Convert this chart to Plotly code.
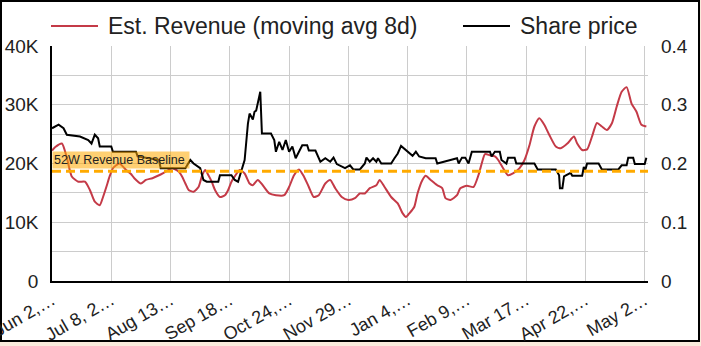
import plotly.graph_objects as go

# ---- data ----
tick_days = [0, 36, 72, 108, 144, 180, 216, 252, 288, 324, 360]
tick_labels = ["Jun 2,…", "Jul 8, 2…", "Aug 13…", "Sep 18…", "Oct 24,…", "Nov 29…",
               "Jan 4,…", "Feb 9,…", "Mar 17…", "Apr 22,…", "May 2…"]

rev_day = [0, 2, 6, 9, 12, 16, 20, 23, 26, 29, 31, 33, 35, 37, 39, 41, 45, 48, 50, 54, 57, 61, 65, 69,
           73, 77, 79, 81, 83, 86, 89, 91, 93, 95, 97, 99, 102, 105, 107, 109, 111, 114, 117, 120, 122,
           125, 128, 132, 136, 141, 144, 147, 150, 153, 156, 159, 162, 166, 169, 172, 176, 180, 184, 187,
           190, 193, 197, 199, 202, 206, 210, 213, 215, 217, 220, 222, 225, 227, 230, 234, 237, 239, 242,
           246, 248, 252, 256, 259, 261, 263, 266, 269, 271, 274, 277, 280, 284, 287, 290, 293, 296, 299,
           302, 306, 309, 313, 317, 319, 322, 325, 328, 331, 334, 337, 340, 343, 346, 349, 352, 355, 358, 361]
revenue = [22200, 22800, 23400, 21000, 17800, 16900, 16900, 15500, 13500, 12900, 14300, 16000, 17800,
           19200, 19700, 20000, 18900, 18200, 17500, 16600, 17200, 17500, 18000, 18600, 19200, 18600,
           17800, 16600, 15500, 15200, 16000, 17800, 18900, 18000, 16900, 15500, 14300, 14600, 15500,
           16900, 17800, 18900, 18300, 16600, 16300, 17200, 16300, 14900, 14600, 14600, 16000, 18000,
           19000, 17800, 16000, 14300, 14600, 16600, 17200, 15800, 14300, 13800, 14100, 14900, 14900,
           15800, 16300, 17200, 16000, 14300, 13200, 11500, 10900, 11500, 12600, 14900, 17200, 17900,
           17200, 16300, 15800, 14100, 13800, 14600, 15800, 16200, 16000, 18000, 20000, 21600, 21400,
           21200, 20600, 19200, 18000, 18300, 19200, 20600, 23100, 26300, 27700, 26600, 24900, 22900,
           22600, 23400, 24600, 23400, 22300, 22400, 24600, 26900, 26300, 25700, 26800, 29700, 32200,
           33000, 30200, 28800, 26600, 26300]

px_day = [0, 4, 7, 9, 17, 22, 24, 26, 28, 29, 36, 37, 51, 52, 65, 66, 81, 84, 86, 90, 92, 94, 101, 102,
          109, 111, 113, 115, 117, 119, 120, 122, 123, 124, 125, 126.5, 127.5, 133, 135, 136, 138, 140,
          142, 144, 146, 148, 150, 152, 155, 156, 160, 163, 166, 169, 171, 173, 178, 181, 183, 187, 190,
          191, 193, 195, 197, 198, 200, 206, 208, 210, 212, 215, 219, 221, 223, 227, 233, 234, 246, 247,
          249, 251, 253, 255, 266, 267, 269, 272, 273, 276, 277, 281, 282, 293, 295, 306, 308, 308.5,
          310, 311, 315, 316, 322, 323, 324, 325, 332, 334, 344, 346, 349, 350, 353, 354, 360, 361]
share_price = [0.26, 0.266, 0.26, 0.249, 0.246, 0.24, 0.234, 0.249, 0.243, 0.229, 0.229, 0.22, 0.22,
               0.212, 0.206, 0.192, 0.192, 0.206, 0.2, 0.192, 0.172, 0.169, 0.169, 0.18, 0.18, 0.172,
               0.169, 0.186, 0.206, 0.268, 0.285, 0.275, 0.288, 0.29, 0.302, 0.322, 0.251, 0.251, 0.24,
               0.22, 0.237, 0.223, 0.24, 0.22, 0.229, 0.209, 0.22, 0.231, 0.231, 0.222, 0.222, 0.203,
               0.209, 0.203, 0.21, 0.199, 0.192, 0.197, 0.19, 0.19, 0.2, 0.21, 0.203, 0.209, 0.203, 0.209,
               0.2, 0.2, 0.209, 0.217, 0.23, 0.222, 0.213, 0.22, 0.212, 0.209, 0.209, 0.2, 0.209, 0.2,
               0.21, 0.21, 0.2, 0.22, 0.22, 0.212, 0.22, 0.22, 0.206, 0.2, 0.21, 0.21, 0.2, 0.2, 0.19,
               0.19, 0.18, 0.158, 0.158, 0.178, 0.184, 0.179, 0.179, 0.194, 0.19, 0.2, 0.2, 0.19, 0.19,
               0.197, 0.197, 0.21, 0.21, 0.199, 0.199, 0.21]

baseline = 18700
baseline_label = "52W Revenue Baseline"
rev_name = "Est. Revenue (moving avg 8d)"
px_name = "Share price"

# ---- layout geometry ----
W, H = 701, 346
ML, MR, MT, MB = 52, 53, 46, 65
PW, PH = W - ML - MR, H - MT - MB
RED = "#C43A47"
ORANGE = "#FFAA00"
FONT = "Liberation Sans, Arial, sans-serif"
TXT = "#222222"


def px(xp):
    return (xp - ML) / PW


def py(yp):
    return (H - MB - yp) / PH


fig = go.Figure()
fig.add_trace(go.Scatter(x=rev_day, y=revenue, mode="lines", name=rev_name,
                         line=dict(color=RED, width=2, shape="spline", smoothing=0.6),
                         showlegend=False, yaxis="y"))
fig.add_trace(go.Scatter(x=px_day, y=share_price, mode="lines", name=px_name,
                         line=dict(color="black", width=2),
                         showlegend=False, yaxis="y2"))

shapes = [
    # page frame
    dict(type="rect", xref="paper", yref="paper", x0=px(1), x1=px(699), y0=py(1), y1=py(341),
         fillcolor="white", line=dict(color="black", width=2), layer="below"),
    # baseline
    dict(type="line", xref="paper", yref="y", x0=0, x1=1, y0=baseline, y1=baseline,
         line=dict(color=ORANGE, width=3, dash="9px,5px")),
    # legend samples
    dict(type="line", xref="paper", yref="paper", x0=px(51), x1=px(98), y0=py(26), y1=py(26),
         line=dict(color=RED, width=2)),
    dict(type="line", xref="paper", yref="paper", x0=px(463), x1=px(510), y0=py(26), y1=py(26),
         line=dict(color="black", width=2)),
]

annotations = [
    dict(text=rev_name, xref="paper", yref="paper", x=px(106), y=py(26), xanchor="left",
         yanchor="middle", showarrow=False, font=dict(family=FONT, size=23, color=TXT)),
    dict(text=px_name, xref="paper", yref="paper", x=px(518), y=py(26), xanchor="left",
         yanchor="middle", showarrow=False, font=dict(family=FONT, size=23, color=TXT)),
    dict(text=baseline_label, xref="paper", yref="y", x=0, y=baseline, xanchor="left",
         yanchor="bottom", yshift=2, showarrow=False, align="left",
         width=134, height=14, borderpad=1,
         bgcolor="rgba(255,170,0,0.55)", font=dict(family=FONT, size=12.5, color=TXT)),
]

fig.update_layout(
    width=W, height=H,
    margin=dict(l=ML, r=MR, t=MT, b=MB, pad=0, autoexpand=False),
    paper_bgcolor="#FAEBDC",
    plot_bgcolor="rgba(0,0,0,0)",
    font=dict(family=FONT, color=TXT),
    showlegend=False,
    shapes=shapes,
    annotations=annotations,
    xaxis=dict(range=[0, 362], tickvals=tick_days, ticktext=tick_labels, tickangle=-30,
               showgrid=True, gridcolor="#CCCCCC", gridwidth=1, zeroline=False, automargin=False,
               showline=True, linecolor="black", linewidth=1.5, ticks="", ticklen=0,
               ticklabeloverflow="allow",
               tickfont=dict(family=FONT, size=18, color=TXT)),
    yaxis=dict(range=[0, 40000], tickvals=[0, 10000, 20000, 30000, 40000],
               ticktext=["0", "10K", "20K", "30K", "40K"], automargin=False,
               showgrid=True, gridcolor="#CCCCCC", gridwidth=1, zeroline=False,
               minor=dict(dtick=5000, showgrid=True, gridcolor="#CCCCCC", gridwidth=1),
               showline=True, linecolor="black", linewidth=1.5, ticks="", ticklen=0,
               ticklabelstandoff=8,
               tickfont=dict(family=FONT, size=19, color=TXT)),
    yaxis2=dict(range=[0, 0.4], tickvals=[0, 0.1, 0.2, 0.3, 0.4],
                ticktext=["0", "0.1", "0.2", "0.3", "0.4"], overlaying="y", side="right",
                showgrid=False, zeroline=False, showline=False, ticks="", ticklen=0,
                ticklabelstandoff=12,
                automargin=False, tickfont=dict(family=FONT, size=19, color=TXT)),
)

fig.write_html("out.html")
